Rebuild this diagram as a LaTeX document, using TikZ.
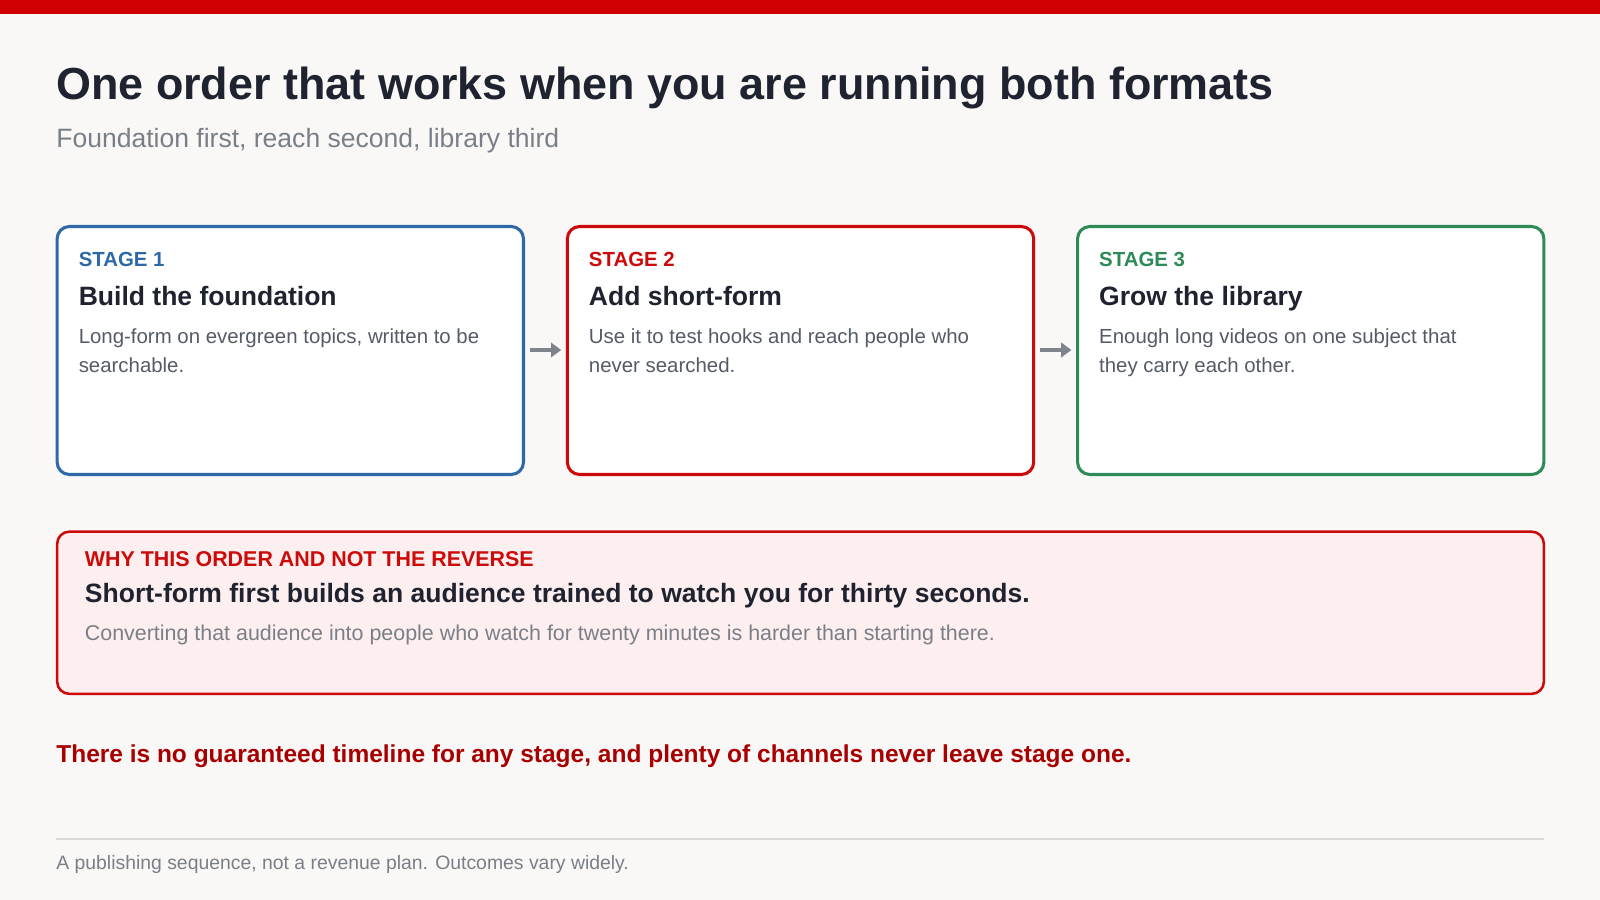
\documentclass[tikz,border=0pt]{standalone}
\usepackage{fontspec}
\usetikzlibrary{arrows.meta}
\setmainfont{Liberation Sans}
\definecolor{bg}{HTML}{F9F8F6}
\definecolor{topred}{HTML}{D00000}
\definecolor{ink}{HTML}{1F2330}
\definecolor{sub}{HTML}{7A7F87}
\definecolor{body}{HTML}{555B66}
\definecolor{sblue}{HTML}{2F68A6}
\definecolor{sred}{HTML}{CC0A0A}
\definecolor{sgreen}{HTML}{2E8A58}
\definecolor{pink}{HTML}{FDEFEF}
\definecolor{warn}{HTML}{A80000}
\definecolor{rule}{HTML}{D9D9D9}
\definecolor{arr}{HTML}{7F848C}
\begin{document}
\begin{tikzpicture}[x=1pt,y=-1pt,
  txt/.style={anchor=base west,inner sep=0pt,align=left},
  card/.style={draw=#1,line width=3pt,rounded corners=12pt,fill=white},
  lbl/.style={txt,font=\fontsize{20}{24}\selectfont\bfseries,text=#1},
  head/.style={txt,font=\fontsize{26}{30}\selectfont\bfseries,text=ink},
  bod/.style={txt,font=\fontsize{20}{28}\selectfont,text=body},
  flow/.style={draw=arr,line width=4pt,-{Triangle[length=10pt,width=14pt]}}]
\useasboundingbox (0,0) rectangle (1568,882);
\fill[bg] (0,0) rectangle (1568,882);
\fill[topred] (0,0) rectangle (1568,14);
\node[txt,font=\fontsize{44}{50}\selectfont\bfseries,text=ink] (title) at (55,98) {One order that works when you are running both formats};
\node[txt,font=\fontsize{26}{30}\selectfont,text=sub] (subt) at (55,145) {Foundation first, reach second, library third};
\foreach \i/\x/\c/\h/\a/\b in {1/56/sblue/{Build the foundation}/{Long-form on evergreen topics, written to be}/{searchable.},
  2/556/sred/{Add short-form}/{Use it to test hooks and reach people who}/{never searched.},
  3/1056/sgreen/{Grow the library}/{Enough long videos on one subject that}/{they carry each other.}}{
  \draw[card=\c] (\x,222) rectangle ++(457,243);
  \node[lbl=\c] (s\i) at (\x+21,261) {STAGE \i};
  \node[head] (h\i) at (\x+21,299) {\h};
  \node[bod] (b\i) at (\x+21,337) {\a};
  \node[bod] (c\i) at (\x+21,365) {\b};
  \coordinate (L\i) at (\x,343);
  \coordinate (R\i) at (\x+457,343);
}
\draw[flow] ([xshift=6pt]R1) -- ([xshift=-6pt]L2);
\draw[flow] ([xshift=6pt]R2) -- ([xshift=-6pt]L3);
\draw[draw=sred,line width=2.5pt,rounded corners=12pt,fill=pink] (56,521) rectangle (1513,680);
\node[txt,font=\fontsize{21}{24}\selectfont\bfseries,text=sred] (why) at (83,555) {WHY THIS ORDER AND NOT THE REVERSE};
\node[head] (wh) at (83,590) {Short-form first builds an audience trained to watch you for thirty seconds.};
\node[txt,font=\fontsize{21}{24}\selectfont,text=sub] (wb) at (83,628) {Converting that audience into people who watch for twenty minutes is harder than starting there.};
\node[txt,font=\fontsize{24}{28}\selectfont\bfseries,text=warn] (warnl) at (55,747) {There is no guaranteed timeline for any stage, and plenty of channels never leave stage one.};
\draw[rule,line width=1.5pt] (55,822) -- (1513,822);
\node[txt,font=\fontsize{19}{22}\selectfont,text=sub] (foot) at (55,852) {A publishing sequence, not a revenue plan. Outcomes vary widely.};
\end{tikzpicture}
\end{document}
